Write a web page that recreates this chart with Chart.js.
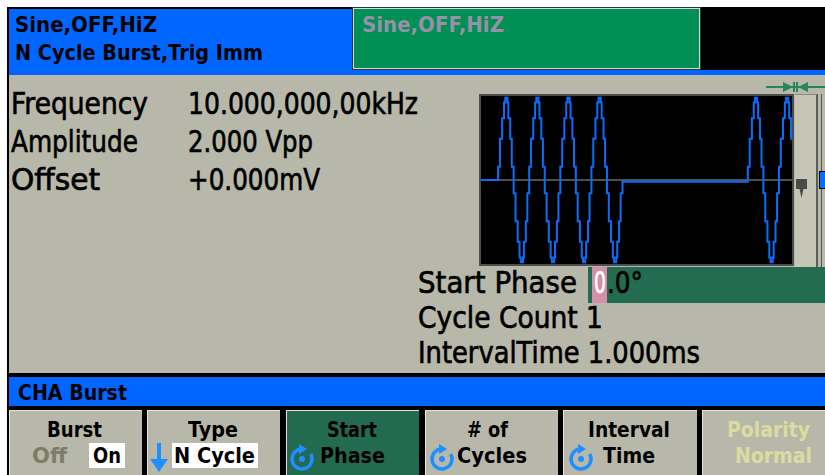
<!DOCTYPE html>
<html>
<head>
<meta charset="utf-8">
<title>CHA Burst</title>
<script src="https://cdn.jsdelivr.net/npm/chart.js@4.4.1/dist/chart.umd.min.js"></script>
<style>
html,body{margin:0;padding:0}
body{width:825px;height:475px;position:relative;overflow:hidden;background:#fff;font-family:"DejaVu Sans",sans-serif}
.a{position:absolute}
.t{position:absolute;white-space:nowrap;transform-origin:0 0}
.key{position:absolute;top:410px;height:65px;width:133px;background:#b8b8aa;box-shadow:inset 1px 1px 0 #e4e4da}
.wbox{position:absolute;top:443px;height:25px;background:#fff}
</style>
</head>
<body>
<!-- frame + header -->
<div class="a" style="left:7px;top:7px;width:818px;height:468px;background:#000"></div>
<div class="a" style="left:9px;top:9px;width:816px;height:66px;background:#0066ff"></div>
<div class="a" style="left:353px;top:8px;width:345px;height:59px;background:#008f55;border:1px solid #d8d8d8;outline:1px solid #333"></div>
<div class="a" style="left:701px;top:7px;width:124px;height:63px;background:#000"></div>

<!-- main panel -->
<div class="a" style="left:9px;top:75px;width:816px;height:298px;background:#b8b8aa"></div>
<div class="a" style="left:479px;top:94px;width:315px;height:172px;box-sizing:border-box;background:#000;border:2px solid #4d4d4d"></div>
<canvas id="wave" class="a" style="left:481px;top:96px" width="311" height="168"></canvas>

<div class="a" style="left:795px;top:94px;width:21px;height:173px;background:#c6c6b6;border-top:1px solid #8a8a80;border-right:2px solid #5c5c5c"></div>
<div class="a" style="left:821px;top:94px;width:1px;height:173px;background:#555"></div>
<div class="a" style="left:819px;top:171px;width:8px;height:16px;background:#0a6cff;border:1px solid #000"></div>
<svg class="a" style="left:795px;top:178px" width="14" height="22"><path d="M1 1 H12 V11 H8.5 L6.5 20 L4.5 11 H1 Z" fill="#4a4a4a"/></svg>
<svg class="a" style="left:766px;top:81px" width="59" height="12">
  <rect x="0" y="5" width="59" height="2" fill="#27865a"/>
  <polygon points="17,1 27,6 17,11" fill="#27865a"/><rect x="27" y="1" width="2" height="10" fill="#27865a"/>
  <polygon points="42,1 32,6 42,11" fill="#27865a"/><rect x="30" y="1" width="2" height="10" fill="#27865a"/>
</svg>

<div class="a" style="left:588px;top:267px;width:237px;height:36px;background:#236c52"></div>
<div class="a" style="left:592px;top:267px;width:15px;height:36px;background:#d68ea6"></div>

<!-- softkey bar -->
<div class="a" style="left:9px;top:377px;width:816px;height:29px;background:#0066ff"></div>
<div class="key" style="left:9px"></div>
<div class="key" style="left:147px"></div>
<div class="key" style="left:286px;background:#236b50"></div>
<div class="key" style="left:425px"></div>
<div class="key" style="left:563px;width:134px"></div>
<div class="key" style="left:702px;width:123px"></div>
<div class="wbox" style="left:89px;width:36px"></div>
<div class="wbox" style="left:172px;width:86px"></div>
<svg class="a" style="left:150px;top:443px" width="18" height="30"><rect x="7" y="0" width="4" height="19" fill="#1e8fff"/><polygon points="0,16 18,16 9,29" fill="#1e8fff"/></svg>
<svg class="a knob" style="left:287px;top:444px" width="30" height="30"></svg>
<svg class="a knob" style="left:427px;top:444px" width="30" height="30"></svg>
<svg class="a knob" style="left:566px;top:444px" width="30" height="30"></svg>

<script>
// waveform: one burst cycle as drawn (stepped), in µs and volts
const cycleTimes  = [0, 6, 13, 19, 23, 30, 33, 39, 44, 50, 56, 63, 69, 73, 80, 83, 89, 94];
const cycleVolts  = [0.16, 0.5, 0.75, 0.94, 1, 0.94, 0.75, 0.5, 0.16, -0.16, -0.5, -0.75, -0.94, -1, -0.94, -0.75, -0.5, -0.16];
const cyclePeriod = 100;          // µs (10 kHz)
const burstStarts = [55, 858];    // µs on screen
const burstCycles = [4, 2];
const idleVolts   = [0, -0.02];   // level before each burst
const screenSpan  = 1000;         // µs across the plot

let points = [{x: 0, y: idleVolts[0]}];
burstStarts.forEach((start, b) => {
    if (b > 0) points.push({x: burstStarts[b-1] + burstCycles[b-1]*cyclePeriod, y: idleVolts[b]});
    for (let c = 0; c < burstCycles[b]; c++) {
        cycleTimes.forEach((t, i) => {
            let x = start + c*cyclePeriod + t;
            if (x < screenSpan) points.push({x: x, y: cycleVolts[i]});
        });
    }
});
points.push({x: screenSpan, y: points[points.length-1].y});

new Chart(document.querySelector("#wave"), {
    type: 'line',
    data: {
        datasets: [{
            data: points,
            borderColor: '#0b6dfa',
            borderWidth: 2,
            pointRadius: 0,
            stepped: true
        }]
    },
    options: {
        responsive: false,
        animation: false,
        layout: {padding: 0},
        plugins: {legend: {display: false}, tooltip: {enabled: false}},
        scales: {
            x: {type: 'linear', min: 0, max: screenSpan, display: false},
            y: {
                min: -1.02, max: 1.02,
                ticks: {display: false, stepSize: 0.5},
                border: {display: false},
                grid: {
                    drawTicks: false,
                    lineWidth: 2,
                    color: (c) => (c.tick && c.tick.value === 0) ? '#505050' : 'transparent'
                }
            }
        }
    }
});

// screen texts, squeezed to the widths seen on the instrument
function put(text, x, base, w, size, bold, color){
    let s = document.createElement("div");
    s.className = "t";
    s.textContent = text;
    s.style.left = x + "px";
    s.style.top = (base - 0.846*size) + "px";
    s.style.fontSize = size + "px";
    s.style.lineHeight = size + "px";
    s.style.fontWeight = bold ? "bold" : "normal";
    s.style.color = color || "#000";
    if (!bold) s.style.webkitTextStroke = "0.7px " + (color || "#000");
    document.body.appendChild(s);
    let nat = s.getBoundingClientRect().width;
    s.style.transform = "scaleX(" + (w / nat) + ")";
}

put("Sine,OFF,HiZ", 15, 33, 142, 22, true);
put("N Cycle Burst,Trig Imm", 15, 61, 248, 22, true);
put("Sine,OFF,HiZ", 362, 33, 142, 22, true, "#9890a8");

put("Frequency", 11, 114, 137, 30);
put("10.000,000,00kHz", 188, 114, 230, 30);
put("Amplitude", 11, 152, 127, 30);
put("2.000 Vpp", 188, 152, 125, 30);
put("Offset", 11, 190, 89, 30);
put("+0.000mV", 188, 190, 132, 30);

put("Start Phase", 418, 293, 159, 30);
put("0", 594, 293, 12, 30, false, "#fff");
put(".0°", 607, 293, 36, 30);
put("Cycle Count 1", 418, 328, 185, 30);
put("IntervalTime 1.000ms", 418, 363, 282, 30);

put("CHA Burst", 18, 401, 109, 22, true);

put("Burst", 47, 438, 55, 22, true);
put("Off", 32, 464, 35, 22, true, "#7c7c68");
put("On", 93, 464, 28, 22, true);
put("Type", 188, 438, 50, 22, true);
put("N Cycle", 174, 464, 81, 22, true);
put("Start", 327, 438, 50, 22, true);
put("Phase", 320, 464, 65, 22, true);
put("# of", 467, 438, 41, 22, true);
put("Cycles", 457, 464, 70, 22, true);
put("Interval", 588, 438, 82, 22, true);
put("Time", 603, 464, 52, 22, true);
put("Polarity", 727, 438, 83, 22, true, "#dcdca0");
put("Normal", 735, 464, 77, 22, true, "#dcdca0");

// knob icons on the softkeys
document.querySelectorAll("svg.knob").forEach((each)=>{
    each.innerHTML = '<path d="M23.7 10 A10 10 0 1 1 14 5" fill="none" stroke="#1e8fff" stroke-width="3.5"/>' +
        '<polygon points="12,0 20,5 12,10" fill="#1e8fff"/><circle cx="15" cy="15" r="3" fill="#1e8fff"/>';
});
</script>
</body>
</html>
